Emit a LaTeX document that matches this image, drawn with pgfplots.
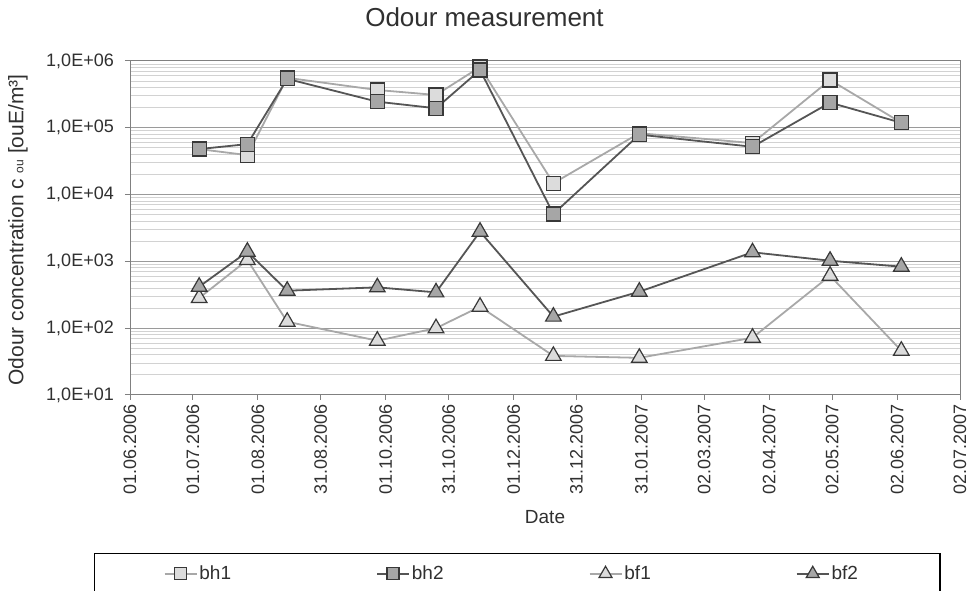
\documentclass[border=0pt]{standalone}
\usepackage{pgfplots}
\pgfplotsset{compat=1.18}
\usepackage{fontspec}
\setmainfont{Liberation Sans}
\definecolor{txt}{HTML}{303030}
\definecolor{lgline}{HTML}{A8A8A8}
\definecolor{dkline}{HTML}{555555}
\definecolor{lgfill}{HTML}{DCDCDC}
\definecolor{dkfill}{HTML}{A6A6A6}
\definecolor{mkedge}{HTML}{383838}
\definecolor{majgrid}{HTML}{9A9A9A}
\definecolor{mingrid}{HTML}{D2D2D2}

\pgfplotstableread{
day bhA bhB bfA bfB
33  48000  48000  283  418
56  39000  57000  1050 1397
75  560000 540000 125  364
118 368000 246000 65   409
146 310000 196000 100  344
167 813000 733000 210  2786
202 14800  5130   38.5 149
243 83000  79000  36   352
297 59000  52000  72   1368
334 520000 238000 611  1023
368 119000 119000 46   833
}\odour

\begin{document}
\begin{tikzpicture}
\useasboundingbox (0pt,0pt) rectangle (969pt,591pt);
\clip (0pt,0pt) rectangle (969pt,591pt);
\node[font=\fontsize{26}{30}\selectfont, text=txt] at (484.5pt,574pt) {Odour measurement};
\node[font=\fontsize{21}{24}\selectfont, text=txt, rotate=90] at (18pt,361pt) {Odour concentration c\ {\fontsize{12}{14}\selectfont ou} [ouE/m³]};
\begin{axis}[
  at={(130pt,196pt)}, anchor=south west,
  width=830pt, height=334pt, scale only axis,
  ymode=log, ymin=10, ymax=1000000,
  xmin=0, xmax=396,
  xtick={0,30,61,91,122,152,183,213,244,274,305,335,366,396},
  xticklabels={01.06.2006,01.07.2006,01.08.2006,31.08.2006,01.10.2006,31.10.2006,01.12.2006,31.12.2006,31.01.2007,02.03.2007,02.04.2007,02.05.2007,02.06.2007,02.07.2007},
  ytick={10,100,1000,10000,100000,1000000},
  yticklabels={{1,0E+01},{1,0E+02},{1,0E+03},{1,0E+04},{1,0E+05},{1,0E+06}},
  minor ytick={20,30,40,50,60,70,80,90,200,300,400,500,600,700,800,900,2000,3000,4000,5000,6000,7000,8000,9000,20000,30000,40000,50000,60000,70000,80000,90000,200000,300000,400000,500000,600000,700000,800000,900000},
  ymajorgrids, yminorgrids,
  major grid style={draw=majgrid, line width=1pt},
  minor grid style={draw=mingrid, line width=0.9pt},
  axis line style={draw=gray, line width=1pt},
  tick style={draw=gray, line width=1pt},
  tick align=outside, major tick length=5pt, minor tick length=0pt,
  xtick pos=bottom, ytick pos=left,
  ticklabel style={font=\fontsize{18}{20}\selectfont, text=txt},
  xticklabel style={rotate=90, anchor=east, inner sep=4pt},
  yticklabel style={inner sep=6pt, xshift=-5pt},
  xlabel={Date},
  xlabel style={font=\fontsize{19}{22}\selectfont, text=txt, at={(axis description cs:0.5,0)}, anchor=north, yshift=-112pt},
  legend columns=4,
  legend style={at={(axis description cs:-0.0434,-0.4716)}, anchor=north west,
    draw=black, line width=1.3pt, inner xsep=69pt, inner ysep=11pt,
    font=\fontsize{19}{21}\selectfont, text=txt,
    /tikz/every even column/.append style={column sep=143pt}},
  legend image code/.code={\draw[mark repeat=2,mark phase=2] plot coordinates {(0pt,0pt)(16pt,0pt)(32pt,0pt)};},
  clip=false,
]
\addplot[color=lgline, line width=1.8pt, mark=square*, mark size=7pt, mark options={fill=lgfill, draw=mkedge, line width=1.2pt, solid}, legend image post style={mark size=6pt}] table[x=day, y=bhA] {\odour};
\addlegendentry{bh1}
\addplot[color=dkline, line width=1.8pt, mark=square*, mark size=7pt, mark options={fill=dkfill, draw=mkedge, line width=1.2pt, solid}, legend image post style={mark size=6pt}] table[x=day, y=bhB] {\odour};
\addlegendentry{bh2}
\addplot[color=lgline, line width=1.8pt, mark=triangle*, mark size=9pt, mark options={fill=lgfill, draw=mkedge, line width=1.2pt, solid}, legend image post style={mark size=7.5pt}] table[x=day, y=bfA] {\odour};
\addlegendentry{bf1}
\addplot[color=dkline, line width=1.8pt, mark=triangle*, mark size=9pt, mark options={fill=dkfill, draw=mkedge, line width=1.2pt, solid}, legend image post style={mark size=7.5pt}] table[x=day, y=bfB] {\odour};
\addlegendentry{bf2\kern11pt}
\end{axis}
\end{tikzpicture}
\end{document}
